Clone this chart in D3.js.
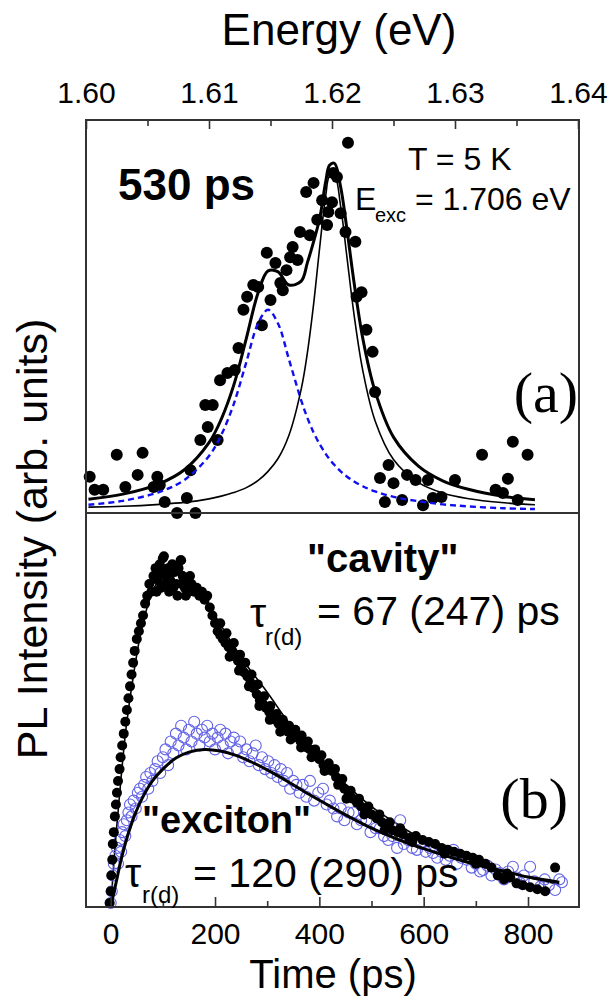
<!DOCTYPE html>
<html>
<head>
<meta charset="utf-8">
<script src="https://cdn.jsdelivr.net/npm/d3@7"></script>
<style>
  body { margin: 0; background: #fff; }
  text { font-family: "Liberation Sans", Arial, sans-serif; fill: #000; }
  .serif { font-family: "Liberation Serif", "Times New Roman", serif; }
</style>
</head>
<body>
<svg width="612" height="1000"></svg>
<script>
// ---- panel (a): spectrum at 530 ps ----
const energyTicks = [1.60, 1.61, 1.62, 1.63, 1.64];
const energyMinor = [1.605, 1.615, 1.625, 1.635];

// measured PL points [energy eV, intensity]
const specPoints = [
  [1.6003,9.2],[1.6007,5.9],[1.6014,5.9],[1.6025,14.8],[1.6032,6.6],[1.6042,9.7],[1.6046,15.3],
  [1.6055,6.6],[1.6058,9.2],[1.6060,7.1],[1.6064,2.8],[1.6074,0.0],[1.6082,3.8],[1.6089,0.0],
  [1.6085,10.9],[1.6093,18.6],[1.6099,21.9],[1.6107,18.6],[1.6097,27.5],[1.6103,27.5],[1.6109,33.8],
  [1.6115,35.6],[1.6121,36.4],[1.6124,42.0],[1.6128,51.7],[1.6131,55.0],[1.6136,58.0],[1.6140,57.5],
  [1.6143,47.8],[1.6150,54.2],[1.6147,66.2],[1.6154,63.6],[1.6158,58.5],[1.6160,56.7],[1.6163,61.8],
  [1.6166,65.1],[1.6168,67.7],[1.6172,64.4],[1.6174,71.5],[1.6179,81.7],[1.6185,84.0],[1.6182,70.7],
  [1.6188,74.6],[1.6192,79.6],[1.6196,73.3],[1.6197,76.6],[1.6200,79.1],[1.6201,86.5],[1.6204,85.5],
  [1.6207,76.3],[1.6211,71.5],[1.6213,94.2],[1.6219,69.0],[1.6220,55.0],[1.6224,56.2],[1.6228,46.6],
  [1.6233,41.0],[1.6235,30.8],[1.6239,8.9],[1.6243,2.8],[1.6246,12.2],[1.6250,7.6],[1.6257,3.3],
  [1.6261,9.7],[1.6268,8.4],[1.6274,2.0],[1.6278,8.4],[1.6282,3.8],[1.6289,4.1],[1.6300,8.4],
  [1.6322,14.8],[1.6333,5.9],[1.6339,5.1],[1.6343,8.7],[1.6347,18.1],[1.6351,3.3],[1.6359,14.8]
];

// fit curves read along the energy grid
const fitEnergy = [1.6002,1.6030,1.6060,1.6080,1.6100,1.6110,1.6120,1.6130,1.6140,1.6148,1.6156,1.6165,
  1.6175,1.6180,1.6185,1.6190,1.6195,1.6198,1.6202,1.6207,1.6212,1.6218,1.6225,1.6235,1.6250,1.6270,
  1.6290,1.6310,1.6340,1.6365];
const fitSum = [3.5,4.8,7.5,11.0,17.9,23.9,32.4,44.0,56.1,61.6,61.4,58.0,59.0,63.7,69.0,75.0,84.5,88.5,
  89.0,83.0,72.5,58.5,44.5,31.0,19.3,12.0,8.2,6.1,4.2,3.4];
const fitCavityPeak = [1.5,1.7,2.2,2.7,3.6,4.3,5.2,6.4,8.3,10.6,13.8,19.8,31.6,40.8,53.0,67.6,81.0,85.7,
  85.9,78.1,65.5,50.3,36.3,23.5,13.6,7.8,5.1,3.7,2.6,2.1];
const fitExcitonPeak = [2.1,3.1,5.4,8.4,14.5,19.9,27.6,38.0,48.3,51.7,48.3,39.1,28.6,24.2,20.5,17.5,15.0,
  13.7,12.2,10.6,9.3,8.0,6.8,5.5,4.1,3.0,2.2,1.7,1.2,1.0];

// ---- panel (b): transients ----
const timeTicks = [0, 200, 400, 600, 800];
const timeMinor = [100, 300, 500, 700];

const cavityPoints = [
  [-2,1],[0,4],[1,8],[3,12],[4,16],[6,19],[8,23],[10,26],[12,29],[14,32],[17,35],[19,38],[22,41],
  [25,44],[28,47],[31,50],[34,53],[37,56],[40,59],[43,62],[46,65],[50,68],[54,70],[58,72],[62,74],
  [66,77],[70,79],[74,82],[78,80],[82,84],[86,86],[90,83],[94,87],[98,85],[102,89],[106,84],[110,86],
  [114,83],[118,87],[122,85],[126,82],[130,86],[134,88],[138,84],[142,81],[146,83],[150,80],[155,82],
  [160,80],[165,81],[170,79],[175,80],[180,78],[185,79],[190,76],[195,74],[200,72],[205,70],[210,69],
  [215,68],[220,67],[226,66],[232,65],[238,64],[244,62.5],[250,61],[256,59.5],[262,58.5],[268,57],
  [274,55.5],[280,54],[286,52.5],[292,51.5],[298,50.5],[304,49.5],[310,48.5],[316,47.5],[322,46.5],
  [328,45.5],[334,45],[340,44.5],[346,44],[352,43.5],[358,43],[364,42],[370,41.5],[376,40.5],[382,40],
  [388,39],[394,38.5],[400,37.5],[408,36],[416,35],[424,34.5],[432,33],[440,31.5],[448,30],[456,28.5],
  [464,27.5],[472,26.5],[480,25.5],[490,24.5],[500,23.5],[510,22.5],[520,21.5],[530,20.5],[540,19.5],
  [550,19],[560,18.5],[572,17.5],[585,18],[598,17],[610,16.5],[622,16],[634,15],[646,14.5],[658,14],
  [670,13.5],[682,13],[694,12.5],[706,12],[718,11],[730,10],[742,8],[754,7],[766,7.5],[778,6],
  [790,5.5],[804,5],[818,4.5],[833,4],[852,10],
  [88,80],[96,81],[104,82],[112,80],[120,81],[128,79],[136,82],[144,79],[152,84],[100,88.5],[135,88],
  [210,72],[222,69.5],[236,67],[248,64],[258,62],[270,59],[282,56.5],[294,53.5],[306,51],[318,49],
  [330,47.5],[342,46],[354,45],[366,43.5],[378,42],[392,40],[404,38.5],[418,36.5],[430,35],[444,32.5],
  [460,29.5],[476,27.5],[494,25.5],[515,23.5],[535,21.5],[555,20],
  [228,63.5],[246,60],[265,56],[285,51],[305,47.5],[325,44.5],[345,42.5],[365,40.5],[385,38],[410,34.5],
  [436,31],[452,27.5],[486,23.5],[525,19.5],[578,16.5],[640,13.5],[700,11],[760,8.5]
];

const excitonPoints = [
  [0,1],[2,4],[4,8],[6,11],[9,13],[12,15],[14,11],[17,17],[20,14],[22,19],[25,21],[28,18],[31,22],
  [34,24],[37,26],[40,23],[44,27],[48,25],[52,29],[56,30],[60,28],[64,31],[68,33],[72,30],[76,34],
  [80,32],[85,35],[90,37],[95,34],[100,38],[105,40],[110,36],[115,42],[120,39],[125,44],[130,41],
  [135,46],[140,43],[145,40],[150,45],[155,42],[160,47],[165,44],[170,41],[175,45],[180,43],[185,46],
  [190,42],[195,44],[200,40],[205,43],[210,45],[215,41],[220,44],[225,39],[230,42],[236,43],[242,40],
  [248,42],[254,38],[260,40],[266,37],[272,39],[278,41],[284,36],[290,38],[296,35],[302,37],[308,34],
  [314,36],[320,33],[326,35],[332,32],[338,34],[344,30],[350,32],[356,31],[362,29],[368,31],[375,28],
  [382,32],[390,27],[398,29],[407,30],[414,26],[420,27],[427,25],[434,23],[441,25],[448,22],[456,24],
  [465,24],[472,21],[480,22],[490,22],[498,19],[508,20],[516,20],[524,18],[532,17],[540,18],[549,15],
  [555,22],[562,16],[570,17],[578,15],[587,14.5],[596,16],[604,14],[612,15],[618,13.7],[626,12.5],
  [634,14],[642,12],[650,13],[657,14.5],[664,11],[672,12.5],[683,12],[692,10],[700,11],[708,9],
  [714,9.4],[722,10.5],[730,8],[738,9.5],[746,8.6],[754,7],[762,9],[771,10.2],[778,7.5],[785,6.1],
  [792,8],[804,10.2],[812,6.5],[823,5.1],[832,7],[840,5.5],[852,4.3],[860,7],[865,6.3]
];

const cavityFit = [[0,0],[10,18],[20,33],[30,46],[45,60],[60,71],[80,80],[100,84.5],[120,86],[140,85],
  [160,82.5],[180,79],[200,74],[230,67.5],[260,61.5],[300,54.5],[340,47],[380,40.5],[420,35],[460,30],
  [500,25.5],[550,21],[600,17],[650,14],[700,11.5],[750,9.3],[800,7.5],[860,5.8]];
const excitonFit = [[0,0],[10,6],[20,12],[30,17],[45,23],[60,27.5],[80,32],[100,35],[125,37.8],[150,39.3],
  [180,40],[210,39.6],[240,38.5],[270,36.8],[300,34.8],[340,31.8],[380,28.6],[420,25.6],[460,22.7],
  [500,20],[550,17.2],[600,14.8],[650,12.7],[700,10.8],[750,9.2],[800,7.6],[860,6.3]];

const svg = d3.select("svg");
const L = 86, R = 579, T = 120, M = 513, B = 907;

const xE = d3.scaleLinear().domain([1.60, 1.64]).range([L, 578]);
const yA = d3.scaleLinear().domain([0, 100]).range([M, T]);
const xT = d3.scaleLinear().domain([0, 800]).range([110.7, 528]);
const yB = d3.scaleLinear().domain([0, 100]).range([B, M]);

// panel (a) marks
const gA = svg.append("g");
gA.selectAll("circle")
  .data(specPoints)
  .join("circle")
  .attr("cx", d => xE(d[0]))
  .attr("cy", d => yA(d[1]))
  .attr("r", 6)
  .attr("fill", "#000");

const lineA = ys => d3.line()
  .x((d, i) => xE(fitEnergy[i]))
  .y(d => yA(d))
  .curve(d3.curveCatmullRom.alpha(0.5))(ys);

gA.append("path").attr("d", lineA(fitExcitonPeak))
  .attr("fill", "none").attr("stroke", "#1010ee").attr("stroke-width", 2.4)
  .attr("stroke-dasharray", "6,4");
gA.append("path").attr("d", lineA(fitCavityPeak))
  .attr("fill", "none").attr("stroke", "#000").attr("stroke-width", 1.6);
gA.append("path").attr("d", lineA(fitSum))
  .attr("fill", "none").attr("stroke", "#000").attr("stroke-width", 3);

// panel (b) marks
const gB = svg.append("g");
const lineB = d3.line()
  .x(d => xT(d[0]))
  .y(d => yB(d[1]))
  .curve(d3.curveCatmullRom.alpha(0.5));

gB.append("path").attr("d", lineB(cavityFit))
  .attr("fill", "none").attr("stroke", "#000").attr("stroke-width", 1.6);

gB.append("g").selectAll("circle")
  .data(excitonPoints)
  .join("circle")
  .attr("cx", d => xT(d[0]))
  .attr("cy", d => yB(d[1]))
  .attr("r", 5.5)
  .attr("fill", "none")
  .attr("stroke", "#6262e6")
  .attr("stroke-width", 1.1);

gB.append("g").selectAll("circle")
  .data(cavityPoints)
  .join("circle")
  .attr("cx", d => xT(d[0]))
  .attr("cy", d => yB(d[1]))
  .attr("r", 5)
  .attr("fill", "#000");

gB.append("path").attr("d", lineB(excitonFit))
  .attr("fill", "none").attr("stroke", "#000").attr("stroke-width", 3);

// frames
svg.append("rect").attr("x", L).attr("y", T).attr("width", R - L).attr("height", B - T)
  .attr("fill", "none").attr("stroke", "#333").attr("stroke-width", 2);
svg.append("line").attr("x1", L).attr("x2", R).attr("y1", M).attr("y2", M)
  .attr("stroke", "#333").attr("stroke-width", 2);

// top axis (energy)
svg.append("g").attr("transform", `translate(0,${T})`)
  .call(d3.axisTop(xE).tickValues(energyTicks).tickSize(-9).tickPadding(17)
    .tickFormat(d3.format(".2f")));
svg.append("g").attr("transform", `translate(0,${T})`)
  .call(d3.axisTop(xE).tickValues(energyMinor).tickSize(-6).tickFormat(""));

// bottom axis (time)
svg.append("g").attr("transform", `translate(0,${B})`)
  .call(d3.axisBottom(xT).tickValues(timeTicks).tickSize(-10).tickPadding(16));
svg.append("g").attr("transform", `translate(0,${B})`)
  .call(d3.axisBottom(xT).tickValues(timeMinor).tickSize(-6).tickFormat(""));

svg.selectAll(".domain").remove();
svg.selectAll(".tick line").attr("stroke", "#333").attr("stroke-width", 1.6);
svg.selectAll(".tick text")
  .style("font-family", "'Liberation Sans', Arial, sans-serif")
  .style("font-size", "30px").attr("fill", "#000");

// titles
svg.append("text").attr("x", 339).attr("y", 45).attr("text-anchor", "middle")
  .style("font-size", "44px").text("Energy (eV)");
svg.append("text").attr("x", 333).attr("y", 988).attr("text-anchor", "middle")
  .style("font-size", "40px").text("Time (ps)");
svg.append("text").attr("transform", "translate(47,539) rotate(-90)").attr("text-anchor", "middle")
  .style("font-size", "43px").text("PL Intensity (arb. units)");

// annotations (a)
svg.append("text").attr("x", 118).attr("y", 200).style("font-size", "44px")
  .style("font-weight", "bold").text("530 ps");
svg.append("text").attr("x", 408).attr("y", 170).style("font-size", "32px").text("T = 5 K");
svg.append("text").attr("x", 355).attr("y", 210).style("font-size", "32px").text("E");
svg.append("text").attr("x", 375).attr("y", 222).style("font-size", "20px").text("exc");
svg.append("text").attr("x", 415).attr("y", 210).style("font-size", "32px").text("= 1.706 eV");
svg.append("text").attr("class", "serif").attr("x", 578).attr("y", 412).attr("text-anchor", "end")
  .style("font-size", "58px").text("(a)");

// annotations (b)
svg.append("text").attr("x", 307).attr("y", 572).style("font-size", "40px")
  .style("font-weight", "bold").text("\"cavity\"");
svg.append("text").attr("x", 250).attr("y", 627).style("font-size", "41px").text("τ");
svg.append("text").attr("x", 265).attr("y", 645).style("font-size", "24px").text("r(d)");
svg.append("text").attr("x", 317).attr("y", 625).style("font-size", "41px").text("= 67 (247) ps");

svg.append("text").attr("class", "serif").attr("x", 568).attr("y", 818).attr("text-anchor", "end")
  .style("font-size", "58px").text("(b)");
svg.append("text").attr("x", 142).attr("y", 833).style("font-size", "38px")
  .style("font-weight", "bold").text("\"exciton\"");
svg.append("text").attr("x", 125).attr("y", 887).style("font-size", "41px").text("τ");
svg.append("text").attr("x", 142).attr("y", 903).style("font-size", "24px").text("r(d)");
svg.append("text").attr("x", 193).attr("y", 887).style("font-size", "41px").text("= 120 (290) ps");
</script>
</body>
</html>
